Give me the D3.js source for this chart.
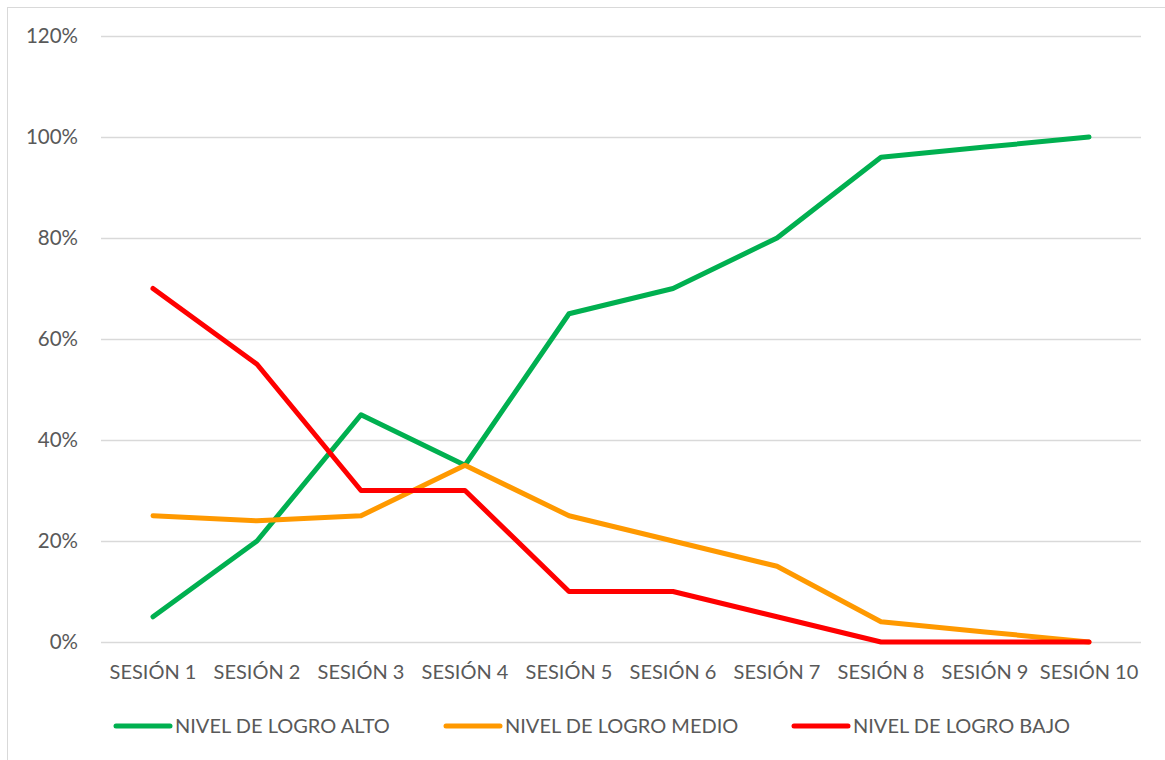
<!DOCTYPE html>
<html><head><meta charset="utf-8">
<script src="https://cdn.jsdelivr.net/npm/d3@7"></script>
<style>body{margin:0;background:#fff}svg{display:block}</style>
</head><body>
<svg id="c" width="1165" height="760"></svg>
<script>
const categories = ["SESIÓN 1","SESIÓN 2","SESIÓN 3","SESIÓN 4","SESIÓN 5","SESIÓN 6","SESIÓN 7","SESIÓN 8","SESIÓN 9","SESIÓN 10"];
const alto  = [0.05,0.20,0.45,0.35,0.65,0.70,0.80,0.96,0.98,1.00];
const medio = [0.25,0.24,0.25,0.35,0.25,0.20,0.15,0.04,0.02,0.00];
const bajo  = [0.70,0.55,0.30,0.30,0.10,0.10,0.05,0.00,0.00,0.00];
const seriesNames = ["NIVEL DE LOGRO ALTO","NIVEL DE LOGRO MEDIO","NIVEL DE LOGRO BAJO"];
const yTicks = [0,0.2,0.4,0.6,0.8,1.0,1.2];

const colors = ["#00B050","#FF9900","#FF0000"];
const series = [alto, medio, bajo];
const font = "Lato, 'Open Sans', sans-serif";
const svg = d3.select("#c");

svg.append("rect").attr("x",7.5).attr("y",7.5).attr("width",1165).attr("height",760)
  .attr("fill","none").attr("stroke","#d9d9d9").attr("stroke-width",1);

const x = d3.scaleBand().domain(categories).range([101,1141]);
const y = d3.scaleLinear().domain([0,1.2]).range([642,36]);

// gridlines
svg.append("g").selectAll("line").data(yTicks).join("line")
  .attr("x1",101).attr("x2",1141)
  .attr("y1",d=>Math.round(y(d))+0.5).attr("y2",d=>Math.round(y(d))+0.5)
  .attr("stroke","#d9d9d9").attr("stroke-width",1.3);

// y axis labels
const yAxis = d3.axisLeft(y).tickValues(yTicks).tickFormat(d3.format(".0%")).tickSize(0).tickPadding(0);
const gy = svg.append("g").attr("transform","translate(78,0)").call(yAxis);
gy.select(".domain").remove();
gy.selectAll("text").attr("font-family",font).attr("font-size",20.5).attr("fill","#595959");

// x axis labels
const xAxis = d3.axisBottom(x).tickSize(0).tickPadding(0);
const gx = svg.append("g").attr("transform","translate(0,665)").call(xAxis);
gx.select(".domain").remove();
gx.selectAll("text").attr("font-family",font).attr("font-size",20).attr("fill","#595959");

// lines
const line = d3.line().x((d,i)=>x(categories[i])+x.bandwidth()/2).y(d=>y(d));
series.forEach((s,k)=>{
  svg.append("path").datum(s).attr("d",line).attr("fill","none")
    .attr("stroke",colors[k]).attr("stroke-width",5)
    .attr("stroke-linecap","round").attr("stroke-linejoin","round");
});

// legend
const legX = [116,446,794];
seriesNames.forEach((n,k)=>{
  const g = svg.append("g").attr("transform",`translate(${legX[k]},726)`);
  g.append("line").attr("x1",0).attr("x2",54).attr("stroke",colors[k]).attr("stroke-width",5).attr("stroke-linecap","round");
  g.append("text").attr("x",59).attr("y",0).attr("dy","0.35em").text(n)
    .attr("font-family",font).attr("font-size",20).attr("fill","#595959");
});
</script>
</body></html>
